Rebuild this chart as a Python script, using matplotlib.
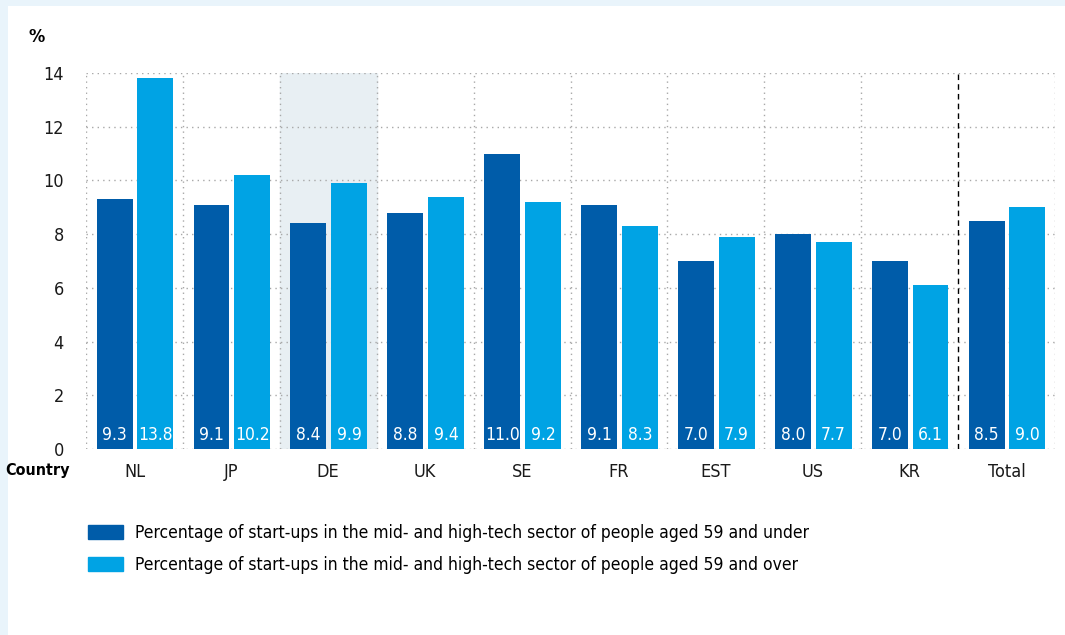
import numpy as np
import matplotlib.pyplot as plt
from matplotlib.patches import Rectangle, Patch

countries = ['NL', 'JP', 'DE', 'UK', 'SE', 'FR', 'EST', 'US', 'KR', 'Total']
under59 = [9.3, 9.1, 8.4, 8.8, 11.0, 9.1, 7.0, 8.0, 7.0, 8.5]
over59 = [13.8, 10.2, 9.9, 9.4, 9.2, 8.3, 7.9, 7.7, 6.1, 9.0]
labels = ['Percentage of start-ups in the mid- and high-tech sector of people aged 59 and under',
          'Percentage of start-ups in the mid- and high-tech sector of people aged 59 and over']

dark = '#005ca9'
light = '#00a3e4'

plt.rcParams['font.family'] = ['DejaVu Sans']
plt.rcParams['font.stretch'] = 'condensed'

fig = plt.figure(figsize=(10.65, 6.35), dpi=100)
fig.patch.set_facecolor('#e9f4fb')
# white panel
fig.patches.append(Rectangle((8/1065, 0), 1, 1 - 6/635, transform=fig.transFigure,
                             facecolor='white', edgecolor='none', zorder=-10))

ax = fig.add_axes([86/1065, 1 - 449/635, 969/1065, 376/635])
ax.set_facecolor('none')

x = np.arange(len(countries))
w = 0.37
ax.bar(x - 0.205, under59, w, color=dark, zorder=3)
ax.bar(x + 0.215, over59, w, color=light, zorder=3)

for i in range(len(countries)):
    ax.text(x[i] - 0.205, 0.17, '%.1f' % under59[i], color='white', ha='center',
            va='bottom', fontsize=12.5, zorder=4)
    ax.text(x[i] + 0.215, 0.17, '%.1f' % over59[i], color='white', ha='center',
            va='bottom', fontsize=12.5, zorder=4)

# highlighted DE column
ax.axvspan(1.5, 2.5, color='#e8eff3', zorder=0)

ax.set_xlim(-0.5, len(countries) - 0.5)
ax.set_ylim(0, 14)
ax.set_yticks(np.arange(0, 15, 2))
ax.set_xticks(x)
ax.set_xticklabels(countries, fontsize=13)
ax.tick_params(axis='both', length=0, labelsize=13, colors='#1a1a1a')
ax.tick_params(axis='y', pad=16)
ax.tick_params(axis='x', pad=10)

for yy in np.arange(0, 15, 2):
    ax.axhline(yy, color='#a8a8a8', lw=1, ls=(0, (1, 3)), zorder=1)
for xx in np.arange(-0.5, len(countries), 1):
    if xx == len(countries) - 1.5:
        ax.axvline(xx, color='black', lw=1, ls=(0, (4, 3)), zorder=2)
    else:
        ax.axvline(xx, color='#a8a8a8', lw=1, ls=(0, (1, 3)), zorder=1)

for s in ax.spines.values():
    s.set_visible(False)

fig.text(37/1065, 1 - 37/635, '%', fontsize=13, fontweight='bold', ha='center', va='center')
fig.text(70/1065, 1 - 471/635, 'Country', fontsize=11.5, fontweight='bold', ha='right', va='center')

handles = [Patch(color=dark), Patch(color=light)]
fig.legend(handles, labels, loc='upper left', bbox_to_anchor=(81/1065, 1 - 517/635),
           frameon=False, fontsize=12.5, handlelength=2.0, handleheight=0.85,
           labelspacing=0.8, handletextpad=0.7, borderaxespad=0)

fig.savefig('out.png', dpi=100, facecolor=fig.get_facecolor())
